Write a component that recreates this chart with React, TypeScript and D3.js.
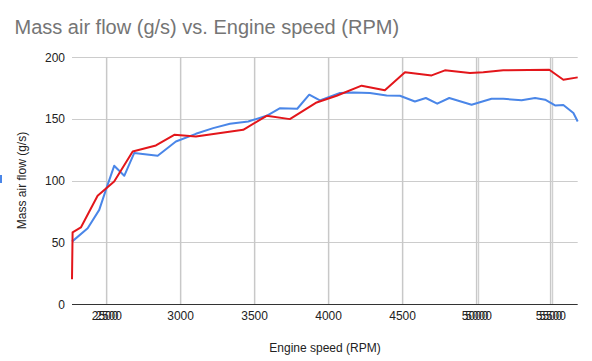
import React from "react";
import * as d3 from "d3";

const titleText = "Mass air flow (g/s) vs. Engine speed (RPM)";
const xTitle = "Engine speed (RPM)";
const yTitle = "Mass air flow (g/s)";

const xTicks = [2500, 3000, 3500, 4000, 4500, 5000, 5500];
const xTicksDoubled = [2500, 5000, 5500];
const yTicks = [0, 50, 100, 150, 200];

const redRpm = [2266, 2270, 2326, 2439, 2551, 2676, 2833, 2957, 3103, 3423, 3581, 3738, 3919, 4054, 4223, 4380, 4516, 4696, 4786, 4955, 5045, 5180, 5491, 5586, 5683];
const redMaf = [20, 58, 62, 87.6, 99.2, 123.5, 128.4, 137, 135.7, 141, 152.4, 149.7, 163.2, 168.6, 176.8, 173, 187.6, 185.1, 189.2, 187, 187.6, 189.2, 189.7, 181.6, 183.5];

const blueRpm = [2266, 2372, 2450, 2495, 2551, 2619, 2686, 2845, 2968, 3103, 3220, 3333, 3457, 3581, 3672, 3788, 3869, 3941, 4077, 4167, 4279, 4392, 4482, 4583, 4657, 4734, 4815, 4966, 5101, 5180, 5304, 5395, 5463, 5530, 5586, 5654, 5683];
const blueMaf = [50.5, 61.4, 76.2, 92.4, 111.9, 103.8, 122.2, 120, 131.6, 137.8, 142.4, 145.9, 147.8, 152.4, 158.6, 158.1, 169.5, 164.9, 170.8, 171.3, 170.8, 168.9, 168.6, 164, 166.8, 162.2, 166.8, 161.4, 166.2, 166.2, 164.9, 166.8, 165.4, 160.8, 161.1, 154.6, 147.8];

const W = 592;
const H = 361;
const FONT = "Arial, 'Liberation Sans', sans-serif";

export default function App() {
  const x = d3.scaleLinear().domain([2266, 5683]).range([72, 577.7]);
  const y = d3.scaleLinear().domain([0, 200]).range([304, 57]);

  const redData = redRpm.map((r, i) => [r, redMaf[i]] as [number, number]);
  const blueData = blueRpm.map((r, i) => [r, blueMaf[i]] as [number, number]);
  const line = d3
    .line<[number, number]>()
    .x((d) => x(d[0]))
    .y((d) => y(d[1]));

  const [x0, x1] = x.range();

  return (
    <svg
      width={W}
      height={H}
      style={{ position: "absolute", left: 0, top: 0, background: "#fff" }}
      fontFamily={FONT}
    >
      <rect x={0} y={0} width={W} height={H} fill="#fff" />
      <text x={14.5} y={34} fontSize={20} fill="#757575">
        {titleText}
      </text>

      {/* horizontal gridlines */}
      {yTicks.filter((t) => t > 0).map((t) => (
        <line key={"h" + t} x1={x0} x2={x1} y1={Math.round(y(t)) + 0.5} y2={Math.round(y(t)) + 0.5} stroke="#cccccc" strokeWidth={1} />
      ))}
      {/* vertical gridlines */}
      {xTicks.map((t) => (
        <line key={"v" + t} x1={x(t)} x2={x(t)} y1={y(200)} y2={y(0)} stroke="#c8c8c8" strokeWidth={1.5} />
      ))}
      {xTicksDoubled.slice(1).map((t) => (
        <line key={"vd" + t} x1={x(t) + 2} x2={x(t) + 2} y1={y(200)} y2={y(0)} stroke="#d0d0d0" strokeWidth={1.2} />
      ))}

      {/* series */}
      <path d={line(blueData) || ""} fill="none" stroke="#4a86e8" strokeWidth={2} strokeLinejoin="round" />
      <path d={line(redData) || ""} fill="none" stroke="#e3161b" strokeWidth={2} strokeLinejoin="round" />

      {/* x axis line */}
      <line x1={x0} x2={x1} y1={y(0) + 0.5} y2={y(0) + 0.5} stroke="#333" strokeWidth={1} />

      {/* y tick labels */}
      {yTicks.map((t) => (
        <text key={"yl" + t} x={65} y={y(t) + 4.5} fontSize={12} fill="#222" textAnchor="end">
          {t}
        </text>
      ))}

      {/* x tick labels (doubled ones drawn twice, slightly offset, as in the reference) */}
      {xTicks.map((t) => (
        <text key={"xl" + t} x={x(t) + (xTicksDoubled.includes(t) ? -1.5 : 0)} y={320} fontSize={12} fill="#222" textAnchor="middle">
          {t}
        </text>
      ))}
      {xTicksDoubled.map((t) => (
        <text key={"xld" + t} x={x(t) + 2} y={320} fontSize={12} fill="#222" textAnchor="middle">
          {t}
        </text>
      ))}

      {/* axis titles */}
      <text x={325} y={352} fontSize={12} fill="#222" textAnchor="middle">
        {xTitle}
      </text>
      <text transform={`translate(25.5,${y(100)}) rotate(-90)`} fontSize={12} fill="#222" textAnchor="middle">
        {yTitle}
      </text>

      {/* clipped legend mark */}
      <rect x={0} y={175} width={2} height={8} fill="#4a86e8" />
    </svg>
  );
}
